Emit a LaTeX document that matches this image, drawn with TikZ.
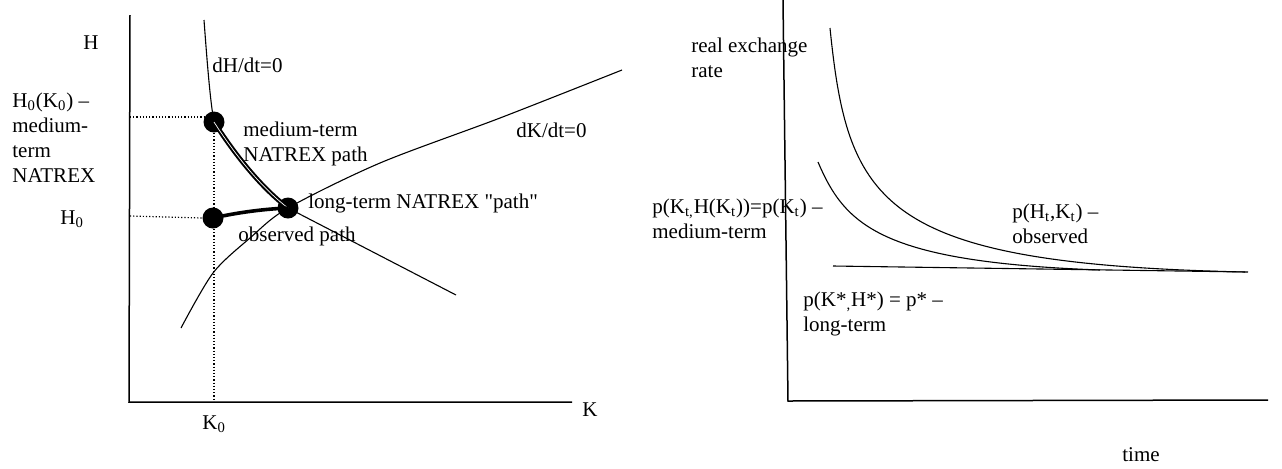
\documentclass[tikz,border=0pt]{standalone}
\usepackage{fontspec}
\setmainfont{Liberation Serif}
\usetikzlibrary{positioning}

\begin{document}
\begin{tikzpicture}[
  x=0.5pt, y=-0.5pt,
  every node/.style={font=\fontsize{10.5}{12.5}\selectfont, inner sep=0pt, align=left},
  lbl/.style={anchor=west},
  axis/.style={line width=0.75pt},
  curve/.style={line width=0.55pt},
  guide/.style={densely dotted, line width=0.6pt},
  dot/.style={circle, fill=black, minimum size=10.5pt},
  medpath/.style={double, double distance=0.35pt, line width=1pt},
  obspath/.style={line width=1.8pt},
]
\useasboundingbox (0,0) rectangle (1282,468);

% Left panel: phase diagram
\coordinate (origL) at (129,402);
\draw[axis] (130,15) -- (origL) -- (572,402);

\node[dot] (mt) at (214,122) {};
\node[dot] (obs) at (213,218) {};
\node[dot] (lt) at (288,208) {};

% dH/dt=0 and dK/dt=0
\draw[curve] (204,20) .. controls (207,60) and (210,100) .. (mt.center)
  .. controls (232,150) and (258,185) .. (lt.center) -- (456,295);
\draw[curve] plot[smooth] coordinates {(181,328) (213,273) (250,238) (288,208)
  (380,163) (500,118) (622,70)};

% paths to the long-term point
\draw[medpath] (mt.center) .. controls (232,150) and (258,185) .. (lt.center);
\draw[obspath] (obs.center) .. controls (240,212) and (265,209) .. (lt.center);

% guides
\draw[guide] (130,117) -- (205,117);
\draw[guide] (130,216) -- (obs.west);
\draw[guide] (mt.south) -- (mt.south |- origL);

\node[lbl] at (83,43) {H};
\node[lbl] at (12,137.5) {H\textsubscript{0}(K\textsubscript{0}) --\\medium-\\term\\NATREX};
\node[lbl] at (60,219) {H\textsubscript{0}};
\node[lbl] at (212,65) {dH/dt=0};
\node[lbl] at (243,143.5) {medium-term\\NATREX path};
\node[lbl] at (308,203) {long-term NATREX \textquotedbl path\textquotedbl};
\node[lbl] at (238,236) {observed path};
\node[lbl] at (516,130) {dK/dt=0};
\node[lbl] at (202,424) {K\textsubscript{0}};
\node[lbl] at (582,410) {K};

% Right panel: exchange rate over time
\draw[axis] (783,0) -- (788,401) -- (1268,400);
\draw[curve] (833,266) -- (1248,272);
\draw[curve] (830,28) .. controls (848,205) and (880,264) .. (1245,272);
\draw[curve] (818,162) .. controls (845,225) and (880,262) .. (1100,270);

\node[lbl] at (691,57.5) {real exchange\\rate};
\node[lbl] at (652,219) {p(K\textsubscript{t,}H(K\textsubscript{t}))=p(K\textsubscript{t}) --\\medium-term};
\node[lbl] at (1012,224) {p(H\textsubscript{t},K\textsubscript{t}) --\\observed};
\node[lbl] at (803,314) {p(K*\textsubscript{,}H*) = p* --\\long-term};
\node[lbl] at (1122,455) {time};
\end{tikzpicture}
\end{document}
